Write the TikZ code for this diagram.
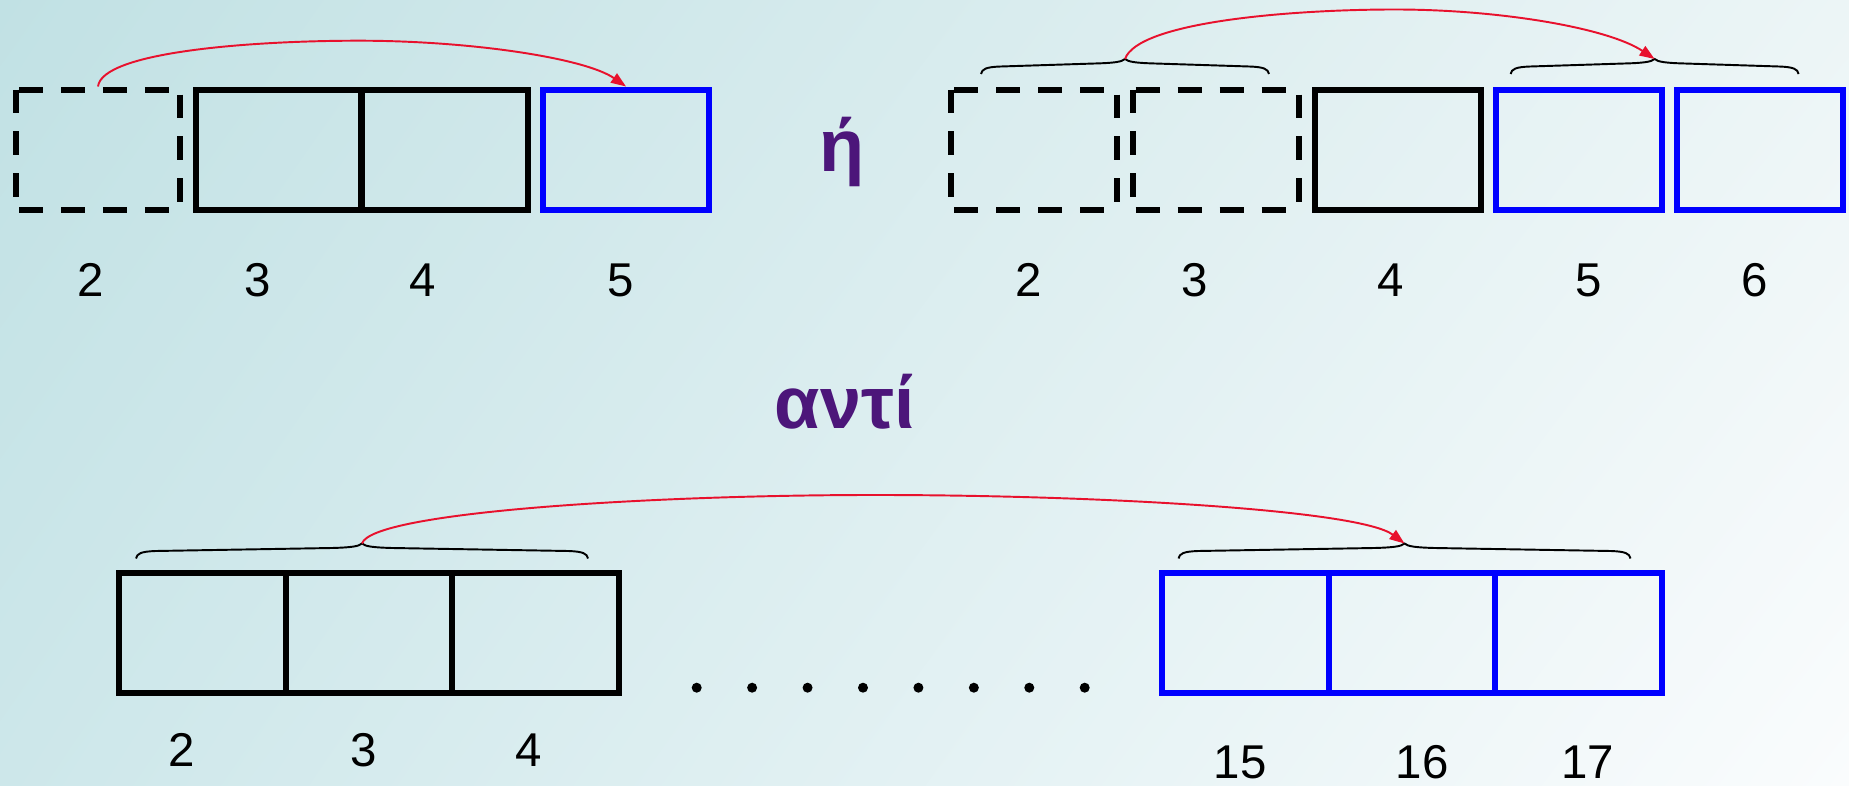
\documentclass[tikz,border=0pt]{standalone}
\usepackage{fontspec}
\setmainfont{Liberation Sans}
\usetikzlibrary{arrows.meta,shadings}
\definecolor{bgUL}{RGB}{193,225,228}
\definecolor{bgUR}{RGB}{236,245,246}
\definecolor{bgLL}{RGB}{205,231,234}
\definecolor{bgLR}{RGB}{250,252,253}
\definecolor{greekpurple}{RGB}{76,22,122}
\definecolor{arcred}{RGB}{232,17,45}
\definecolor{boxblue}{RGB}{0,0,255}
\begin{document}
\begin{tikzpicture}[x=0.02cm,y=-0.02cm,
  cell/.style={rectangle, draw=black, line width=0.12cm, inner sep=0pt,
    minimum width=3.32cm, minimum height=2.41cm},
  bcell/.style={cell, draw=boxblue},
  lowcell/.style={minimum width=3.33cm, minimum height=2.404cm},
  ghost/.style={cell, draw=none, outer sep=0pt},
  dshH/.style={line width=0.12cm, dash pattern=on 0.48cm off 0.36cm, dash phase=0.78cm},
  dshL/.style={line width=0.12cm, dash pattern=on 0.48cm off 0.36cm, dash phase=0cm},
  dshR/.style={line width=0.12cm, dash pattern=on 0.48cm off 0.36cm, dash phase=0.74cm},
  num/.style={font=\fontsize{27}{32}\selectfont, anchor=base, inner sep=0pt},
  greek/.style={font=\fontsize{42}{50}\selectfont\bfseries, text=greekpurple, anchor=base, inner sep=0pt},
  arc/.style={draw=arcred, line width=1.1pt, -{Triangle[length=0.3cm,width=0.22cm]}, arcred},
  brc/.style={draw=black, line width=1.1pt},
  dot/.style={fill=black},
  pics/cbrace/.style={code={
    \draw[brc] (-#1,15) .. controls (-#1+1,10) and (-#1+5,8) .. (-#1+20,7.5)
      -- (-30,4.5) .. controls (-12,4) and (-3,3) .. (0,0)
      .. controls (3,3) and (12,4) .. (30,4.5)
      -- (#1-20,7.5) .. controls (#1-5,8) and (#1-1,10) .. (#1,15);
  }}]
\useasboundingbox (0,0) rectangle (1849,786);
\shade[upper left=bgUL, upper right=bgUR, lower left=bgLL, lower right=bgLR] (0,0) rectangle (1849,786);

% ---- top left row ----
\node[ghost, minimum width=3.28cm] (D1) at (98,149.75) {};
\node[cell] (S1) at (278.5,149.75) {};
\node[cell] (S2) at (444.8,149.75) {};
\node[bcell] (B1) at (626,149.75) {};
\draw[dshH] (D1.north west) -- (D1.north east);
\draw[dshH] (D1.south west) -- (D1.south east);
\draw[dshL] (D1.north west) -- (D1.south west);
\draw[dshR] (D1.north east) -- (D1.south east);

\node[num] (t2) at (91,297) {2};
\node[num] (t3) at (258,297) {3};
\node[num] (t4) at (423,297) {4};
\node[num] (t5) at (621,297) {5};

\draw[arc] ([yshift=0.06cm]D1.north) .. controls (102,52) and (250,40.7) .. (359,40.7)
  .. controls (470,40.7) and (585,58) .. (B1.north);

% ---- eta ----
\node[greek] (eta) at (842,171.7) {ή};

% ---- top right row ----
\node[ghost] (DA) at (1034.3,149.75) {};
\node[ghost] (DB) at (1215.7,149.75) {};
\node[cell] (K) at (1397.8,149.75) {};
\node[bcell] (BL1) at (1579.2,149.75) {};
\node[bcell] (BL2) at (1760.2,149.75) {};
\foreach \b in {DA,DB}{
  \draw[dshH] (\b.north west) -- (\b.north east);
  \draw[dshH] (\b.south west) -- (\b.south east);
  \draw[dshL] (\b.north west) -- (\b.south west);
  \draw[dshR] (\b.north east) -- (\b.south east);
}
\node[num] (u2) at (1029,297) {2};
\node[num] (u3) at (1195,297) {3};
\node[num] (u4) at (1391,297) {4};
\node[num] (u5) at (1589,297) {5};
\node[num] (u6) at (1755,297) {6};

\coordinate (tipA) at (1125,59);
\coordinate (tipB) at (1654.6,59);
\pic (braceA) at (tipA) {cbrace=144};
\pic (braceB) at (tipB) {cbrace=144};
\draw[arc] (tipA) .. controls (1138,22) and (1290,9.5) .. (1395,9.5)
  .. controls (1500,9.5) and (1608,28) .. (tipB);

% ---- anti ----
\node[greek] (anti) at (844.7,428.3) {αντί};

% ---- bottom row ----
\node[cell, lowcell] (L1) at (202.3,633.4) {};
\node[cell, lowcell] (L2) at (368.9,633.4) {};
\node[cell, lowcell] (L3) at (535.3,633.4) {};
\node[bcell, lowcell] (R1) at (1245.6,633.4) {};
\node[bcell, lowcell] (R2) at (1411.9,633.4) {};
\node[bcell, lowcell] (R3) at (1578.7,633.4) {};

\foreach \i in {0,...,7}{
  \fill[dot] (696.7+55.43*\i,687.7) circle[radius=0.1cm];
}

\node[num] (v2) at (181.7,766) {2};
\node[num] (v3) at (364,766) {3};
\node[num] (v4) at (529,766) {4};
\node[num] (w15) at (1240,778) {15};
\node[num] (w16) at (1422,778) {16};
\node[num] (w17) at (1587.5,778) {17};

\coordinate (tipC) at (362,543.5);
\coordinate (tipD) at (1404.5,543.5);
\pic (braceC) at (tipC) {cbrace=226};
\pic (braceD) at (tipD) {cbrace=226};
\draw[arc] (tipC) .. controls (372,512) and (650,495) .. (875,495)
  .. controls (1100,495) and (1360,510) .. (tipD);
\end{tikzpicture}
\end{document}
